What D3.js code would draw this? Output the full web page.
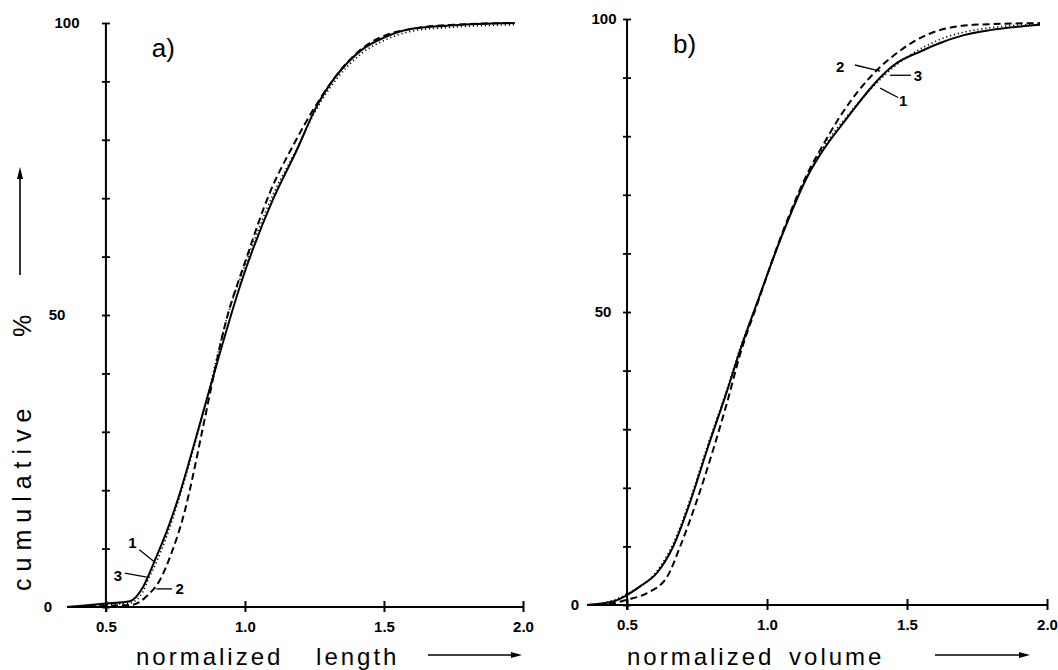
<!DOCTYPE html>
<html>
<head>
<meta charset="utf-8">
<script src="https://cdn.jsdelivr.net/npm/d3@7"></script>
<style>
  body { margin: 0; background: #fff; }
  svg { display: block; }
  text { font-family: "Liberation Sans", Arial, sans-serif; fill: #000; }
</style>
</head>
<body>
<svg id="chart" width="1058" height="670"></svg>
<script>
// panel a) normalized length
const lenX1 = [0.36, 0.5, 0.586, 0.633, 0.676, 0.719, 0.766, 0.809, 0.874, 0.993, 1.10, 1.187, 1.25, 1.42, 1.50, 1.60, 1.75, 1.97]
const lenY1 = [0, 0.6, 1.0, 3.4, 8, 13, 19.5, 26.5, 37.5, 56.5, 69.7, 78.3, 85, 95.4, 97.5, 99, 99.6, 100]
const lenX2 = [0.36, 0.5, 0.597, 0.65, 0.694, 0.737, 0.784, 0.813, 0.85, 0.935, 1.0, 1.09, 1.173, 1.25, 1.42, 1.5, 1.6, 1.75, 1.97]
const lenY2 = [0, 0.2, 0.4, 2, 4.6, 9.4, 16.5, 22.5, 31, 49.5, 59, 71, 79, 85.5, 95.6, 97.8, 99, 99.7, 100]
const lenX3 = [0.36, 0.5, 0.586, 0.633, 0.651, 0.68, 0.72, 0.766, 0.81, 0.874, 0.935, 1.0, 1.1, 1.187, 1.25, 1.42, 1.5, 1.6, 1.75, 1.97]
const lenY3 = [0, 0.4, 0.7, 2.6, 4.6, 7.5, 12.3, 19, 26.2, 37.8, 49.5, 58.5, 70.5, 78.5, 84.6, 94.8, 97, 98.6, 99.3, 99.7]

// panel b) normalized volume
const volX1 = [0.357, 0.45, 0.5, 0.55, 0.607, 0.664, 0.725, 0.786, 0.857, 0.904, 0.964, 1.057, 1.143, 1.2, 1.271, 1.464, 1.55, 1.618, 1.7, 1.796, 1.975]
const volY1 = [0, 0.6, 1.7, 3.3, 5.5, 9.9, 17.5, 26.5, 36.5, 43.5, 51.5, 63.5, 73, 77.6, 82.2, 92.5, 94.5, 95.9, 97.2, 98.1, 99]
const volX2 = [0.357, 0.45, 0.5, 0.57, 0.643, 0.689, 0.75, 0.807, 0.857, 0.904, 0.964, 1.057, 1.143, 1.2, 1.26, 1.393, 1.464, 1.571, 1.736, 1.975]
const volY2 = [0, 0.3, 0.9, 2, 4.8, 9.9, 17.9, 26.4, 34.5, 42.8, 51.2, 63.8, 73.5, 78.5, 83.3, 91.3, 94.2, 97.3, 99, 99.3]
const volX3 = [0.357, 0.45, 0.5, 0.607, 0.664, 0.725, 0.786, 0.857, 0.904, 0.964, 1.057, 1.143, 1.2, 1.296, 1.42, 1.5, 1.618, 1.796, 1.975]
const volY3 = [0, 0.8, 1.9, 5.8, 10.4, 18, 27, 36.8, 43.8, 51.5, 63.5, 73.2, 78, 84, 90.4, 93.5, 96.5, 98.5, 99.1]

const xTicks = [0.5, 1.0, 1.5, 2.0]
const yTicks = [0, 10, 20, 30, 40, 50, 60, 70, 80, 90, 100]
const yLabels = [0, 50, 100]

const svg = d3.select("#chart")

const zip = (xs, ys) => xs.map((x, i) => [x, ys[i]])

const dashes = { 1: null, 2: "7,4", 3: "1.2,2.8" }

const drawPanel = (p) => {
    const x = d3.scaleLinear().domain([p.xmin, 2.0]).range(p.xr)
    const y = d3.scaleLinear().domain([0, 100]).range(p.yr)
    const g = svg.append("g")

    // x axis
    const xa = g.append("g")
        .attr("transform", `translate(0, ${y(0)})`)
        .call(d3.axisBottom(x).tickValues(xTicks).tickSize(5).tickPadding(9).tickFormat(d3.format(".1f")))
    xa.select(".domain").attr("stroke-width", 2).attr("d", `M${x(p.xmin)},0H${x(2.0)}`)
    xa.selectAll(".tick line").attr("y1", -6).attr("stroke-width", 2)
    xa.selectAll(".tick text").style("font-size", "15px").style("font-weight", "bold")

    // y axis, labels placed by hand like the drawing
    const ya = g.append("g")
        .attr("transform", `translate(${x(0.5)}, 0)`)
        .call(d3.axisLeft(y).tickValues(yTicks).tickSize(4).tickFormat(""))
    ya.select(".domain").attr("stroke-width", 2).attr("d", `M0,${y(0) + 5}V${y(100)}`)
    ya.selectAll(".tick line").attr("x1", 4).attr("stroke-width", 1.8)
    yLabels.forEach((v, i) => {
        g.append("text")
            .attr("x", p.ylabX[i]).attr("y", y(v))
            .attr("text-anchor", "middle").attr("dy", "0.36em")
            .style("font-size", "15px").style("font-weight", "bold")
            .text(v)
    })

    // curves
    const line = d3.line().x(d => x(d[0])).y(d => y(d[1])).curve(d3.curveMonotoneX)
    p.series.forEach(s => {
        g.append("path")
            .datum(zip(s.xs, s.ys))
            .attr("fill", "none")
            .attr("stroke", "#000")
            .attr("stroke-width", s.id === 3 ? 1.6 : 2)
            .attr("stroke-dasharray", dashes[s.id])
            .attr("d", line)
    })

    // curve labels with leaders
    p.labels.forEach(l => {
        g.append("line")
            .attr("x1", x(l.from[0])).attr("y1", y(l.from[1]))
            .attr("x2", x(l.to[0])).attr("y2", y(l.to[1]))
            .attr("stroke", "#000").attr("stroke-width", 1.3)
        g.append("text")
            .attr("x", x(l.at[0])).attr("y", y(l.at[1]))
            .attr("text-anchor", "middle").attr("dy", "0.36em")
            .style("font-size", "15px").style("font-weight", "bold")
            .text(l.t)
    })

    // panel letter
    g.append("text")
        .attr("x", x(p.letterAt[0])).attr("y", y(p.letterAt[1]))
        .style("font-size", "26px")
        .text(p.letter)

    // x title + arrow
    g.append("text")
        .attr("x", p.titleX).attr("y", 665)
        .style("font-size", "24px").style("letter-spacing", "3px").style("word-spacing", p.wordSp + "px")
        .text(p.title)
    g.append("line")
        .attr("x1", p.arrow[0]).attr("x2", p.arrow[1] - 8)
        .attr("y1", 655).attr("y2", 655)
        .attr("stroke", "#000").attr("stroke-width", 1.6)
    g.append("path")
        .attr("d", `M${p.arrow[1]},655l-11,-3v6z`)
        .attr("fill", "#000")
}

drawPanel({
    xmin: 0.36, xr: [67, 523], yr: [607, 23], ylabX: [48, 57, 67],
    series: [
        { id: 1, xs: lenX1, ys: lenY1 },
        { id: 2, xs: lenX2, ys: lenY2 },
        { id: 3, xs: lenX3, ys: lenY3 }
    ],
    labels: [
        { t: "1", at: [0.595, 11.1], from: [0.62, 9.8], to: [0.675, 7.7] },
        { t: "3", at: [0.543, 5.3], from: [0.568, 5.8], to: [0.647, 5.1] },
        { t: "2", at: [0.765, 3.2], from: [0.681, 3.1], to: [0.738, 3.1] }
    ],
    letter: "a)", letterAt: [0.665, 94.2],
    title: "normalized length", titleX: 136, wordSp: 23, arrow: [428, 522]
})

drawPanel({
    xmin: 0.357, xr: [587, 1047], yr: [605, 19], ylabX: [575, 603, 604],
    series: [
        { id: 1, xs: volX1, ys: volY1 },
        { id: 2, xs: volX2, ys: volY2 },
        { id: 3, xs: volX3, ys: volY3 }
    ],
    labels: [
        { t: "2", at: [1.261, 91.95], from: [1.314, 92.15], to: [1.404, 91.1] },
        { t: "3", at: [1.539, 90.4], from: [1.439, 90.4], to: [1.514, 90.4] },
        { t: "1", at: [1.486, 86.0], from: [1.404, 88.2], to: [1.468, 86.6] }
    ],
    letter: "b)", letterAt: [0.664, 94.2],
    title: "normalized volume", titleX: 627, wordSp: 5, arrow: [935, 1030]
})

// y axis title + up arrow
svg.append("text")
    .attr("transform", "translate(31, 591) rotate(-90)")
    .style("font-size", "25px").style("letter-spacing", "7px")
    .text("cumulative")
svg.append("text")
    .attr("transform", "translate(31, 337) rotate(-90)")
    .style("font-size", "25px")
    .text("%")
svg.append("line")
    .attr("x1", 20).attr("x2", 20).attr("y1", 275).attr("y2", 178)
    .attr("stroke", "#000").attr("stroke-width", 1.6)
svg.append("path")
    .attr("d", "M20,167l-3,12h6z")
    .attr("fill", "#000")
</script>
</body>
</html>
